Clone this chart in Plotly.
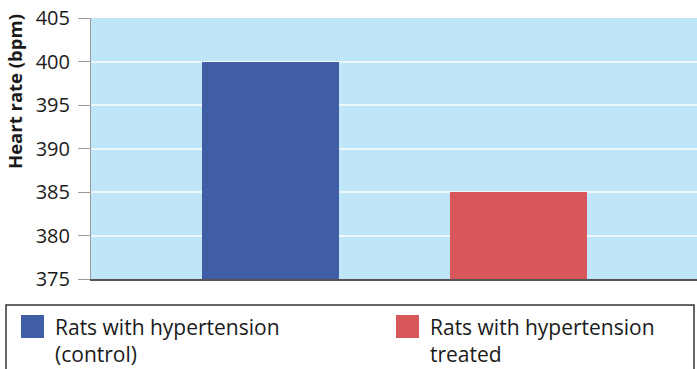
import plotly.graph_objects as go

categories = ["Rats with hypertension (control)", "Rats with hypertension treated"]
legend_lines = [["Rats with hypertension", "(control)"], ["Rats with hypertension", "treated"]]
heart_rate = [400, 385]
bar_colors = ["#3f5ea6", "#d9565a"]
y_ticks = [375, 380, 385, 390, 395, 400, 405]

W, H = 697, 369
L, R, T, B = 91, 0, 18, 90
pw, ph = W - L - R, H - T - B

def px(x):
    return (x - L) / pw

def py(y):
    return (H - B - y) / ph

fig = go.Figure()
base = y_ticks[0]
fig.add_trace(go.Bar(
    x=[0, 1], y=[v - base for v in heart_rate], base=base,
    marker=dict(color=bar_colors, line=dict(width=0)),
    width=0.552, showlegend=False, hoverinfo="skip",
))

fig.update_layout(
    width=W, height=H,
    margin=dict(l=L, r=R, t=T, b=B),
    paper_bgcolor="white",
    plot_bgcolor="#bee5f8",
    font=dict(family="Open Sans", color="#1a1a1a"),
    xaxis=dict(range=[-0.724, 1.72], showticklabels=False, showgrid=False,
               zeroline=False, showline=True, linecolor="#555555", linewidth=1.5,
               ticks=""),
    yaxis=dict(range=[375, 405], tickvals=y_ticks, showgrid=True,
               gridcolor="#eef7fc", gridwidth=2, zeroline=False,
               showline=True, linecolor="#9a9a9a", linewidth=1,
               ticks="outside", ticklen=12, tickcolor="#9a9a9a", tickwidth=1,
               ticklabelstandoff=4,
               tickfont=dict(size=20, family="Open Sans", color="#1a1a1a")),
    bargap=0,
)

# y-axis title
fig.add_annotation(text="<b>Heart rate (bpm)</b>", xref="paper", yref="paper",
                   x=px(15), y=py(92), textangle=-90, showarrow=False,
                   font=dict(size=18.5, family="Open Sans", color="#1a1a1a"),
                   xanchor="center", yanchor="middle")

# legend box
fig.add_shape(type="rect", xref="paper", yref="paper",
              x0=px(6), x1=px(694), y0=py(385), y1=py(305),
              line=dict(color="#333333", width=1.5), fillcolor="rgba(0,0,0,0)")

sq_x = [21, 396]
txt_x = [53, 428]
for i in range(2):
    fig.add_shape(type="rect", xref="paper", yref="paper",
                  x0=px(sq_x[i]), x1=px(sq_x[i] + 23), y0=py(338), y1=py(315),
                  line=dict(width=0), fillcolor=bar_colors[i])
    fig.add_annotation(text="<br>".join(legend_lines[i]), xref="paper", yref="paper",
                       x=px(txt_x[i]), y=py(311), xanchor="left", yanchor="top",
                       align="left", showarrow=False,
                       font=dict(size=21, family="Open Sans", color="#1a1a1a"))

fig.write_html("out.html", config={"displayModeBar": False},
               post_script="document.body.style.margin='0';document.body.style.overflow='hidden';")
